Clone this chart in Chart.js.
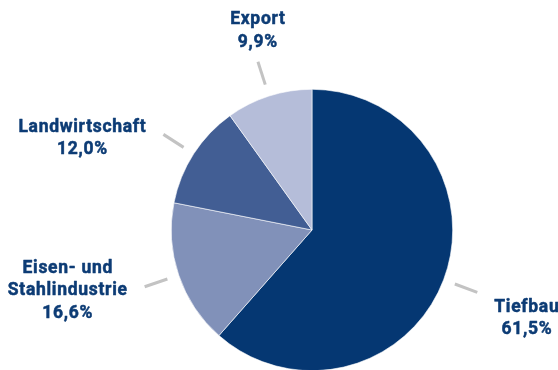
<!DOCTYPE html>
<html>
<head>
<meta charset="utf-8">
<script src="https://cdn.jsdelivr.net/npm/chart.js@4.4.1/dist/chart.umd.min.js"></script>
<style>
  html, body { margin: 0; padding: 0; background: #fff; overflow: hidden; }
  #wrap { width: 558px; height: 372px; }
</style>
</head>
<body>
<div id="wrap"><canvas id="pie" width="558" height="372"></canvas></div>
<script>
/* Absatz nach Bereichen (Anteile in %) */
const categories = ["Tiefbau", "Eisen- und\nStahlindustrie", "Landwirtschaft", "Export"];
const shares = [61.5, 16.6, 12.0, 9.9];
const shareLabels = ["61,5%", "16,6%", "12,0%", "9,9%"];

const COLORS = ["#053772", "#8191b9", "#425e94", "#b5bdd9"];
const TEXT_COLOR = "#0d3c75";
const LEADER_COLOR = "#c3c3c3";

/* ── Labels with short leader lines ───────────────────── */
const calloutPlugin = {
  id: "callouts",
  afterDatasetsDraw(chart, args, opts) {
    const { ctx } = chart;
    const arcs = chart.getDatasetMeta(0).data;
    const lineH = opts.lineHeight;

    arcs.forEach((arc, i) => {
      const { x, y, startAngle, endAngle, outerRadius } = arc.getProps(
        ["x", "y", "startAngle", "endAngle", "outerRadius"], true);
      const mid = (startAngle + endAngle) / 2;
      const dx = Math.cos(mid), dy = Math.sin(mid);

      const x1 = x + dx * (outerRadius + opts.lineFrom);
      const y1 = y + dy * (outerRadius + opts.lineFrom);
      const x2 = x + dx * (outerRadius + opts.lineTo);
      const y2 = y + dy * (outerRadius + opts.lineTo);

      ctx.save();
      ctx.strokeStyle = LEADER_COLOR;
      ctx.lineWidth = 3;
      ctx.beginPath();
      ctx.moveTo(x1, y1);
      ctx.lineTo(x2, y2);
      ctx.stroke();

      const lines = categories[i].split("\n").concat(shareLabels[i]);
      ctx.font = opts.font;
      ctx.letterSpacing = opts.spacing;
      const w = Math.max(...lines.map((l) => ctx.measureText(l).width));
      const h = lines.length * lineH;

      // block centre: beside the line end, or above it for top labels
      let cx, cy;
      if (Math.abs(dx) < 0.5) {
        cx = x2;
        cy = y2 - opts.gap - h / 2 + 9;
      } else {
        cx = x2 + Math.sign(dx) * (opts.gap + w / 2);
        cy = y2 + 4 + (opts.shiftY[i] || 0);
      }

      ctx.fillStyle = TEXT_COLOR;
      ctx.strokeStyle = TEXT_COLOR;
      ctx.lineWidth = 0.5;
      ctx.lineJoin = "round";
      ctx.textAlign = "center";
      ctx.textBaseline = "middle";
      lines.forEach((l, k) => {
        const ly = cy - h / 2 + lineH * (k + 0.5);
        ctx.fillText(l, cx, ly);
        ctx.strokeText(l, cx, ly);
      });
      ctx.restore();
    });
  },
};

new Chart(document.getElementById("pie"), {
  type: "pie",
  data: {
    labels: categories,
    datasets: [{
      data: shares,
      backgroundColor: COLORS,
      borderColor: "#ffffff",
      borderWidth: 0.6,
    }],
  },
  options: {
    responsive: false,
    animation: false,
    events: [],
    layout: { padding: { left: 171, right: 105, top: 89, bottom: 1 } },
    plugins: {
      legend: { display: false },
      tooltip: { enabled: false },
      callouts: {
        font: "bold 17.5px Roboto",
        spacing: "0.7px",
        lineHeight: 22.5,
        lineFrom: 12,
        lineTo: 36,
        gap: 17,
        shiftY: [22, 0, 0, 0],
      },
    },
  },
  plugins: [calloutPlugin],
});
</script>
</body>
</html>
